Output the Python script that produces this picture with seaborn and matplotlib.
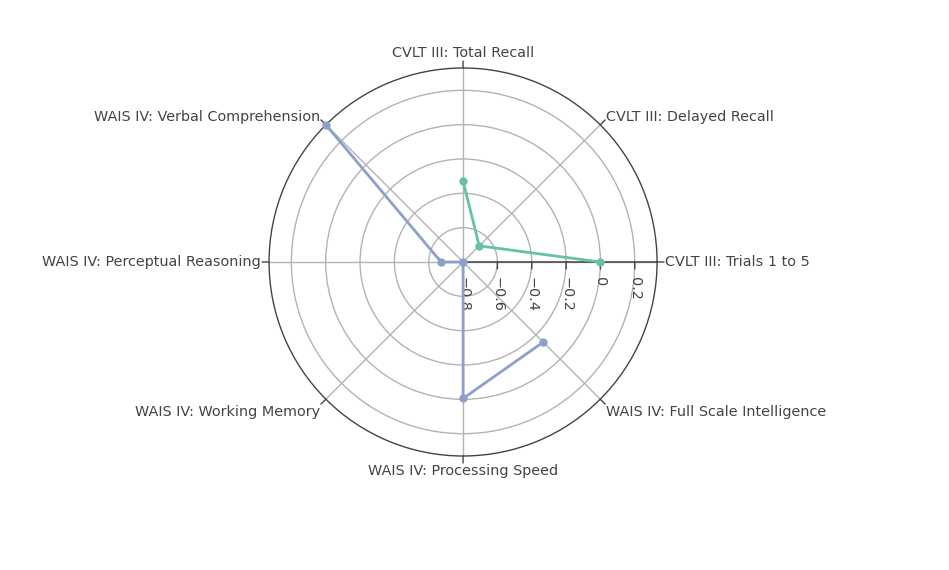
import numpy as np
import pandas as pd
import matplotlib
matplotlib.use("Agg")
import matplotlib.pyplot as plt
import seaborn as sns

categories = [
    "CVLT III: Trials 1 to 5",
    "CVLT III: Delayed Recall",
    "CVLT III: Total Recall",
    "WAIS IV: Verbal Comprehension",
    "WAIS IV: Perceptual Reasoning",
    "WAIS IV: Working Memory",
    "WAIS IV: Processing Speed",
    "WAIS IV: Full Scale Intelligence",
]
cvlt_categories = categories[:3]
cvlt_values = [0.0, -0.667, -0.328]
wais_categories = ["WAIS IV: Verbal Comprehension", "WAIS IV: Perceptual Reasoning",
                   "WAIS IV: Working Memory", "WAIS IV: Processing Speed",
                   "WAIS IV: Full Scale Intelligence"]
wais_values = [0.33, -0.672, -0.8, -0.005, -0.14]
radial_ticks = [-0.8, -0.6, -0.4, -0.2, 0.0, 0.2]
r_min, r_max = -0.8, 0.33

sns.set_style("white")
plt.rcParams["font.family"] = ["DejaVu Sans"]
txt = "#444444"
fs = 10.4

angle_of = {c: np.deg2rad(45 * i) for i, c in enumerate(categories)}
df = pd.DataFrame({
    "theta": [angle_of[c] for c in cvlt_categories] + [angle_of[c] for c in wais_categories],
    "value": cvlt_values + wais_values,
    "group": ["CVLT"] * len(cvlt_values) + ["WAIS"] * len(wais_values),
})

fig = plt.figure(figsize=(9.49, 5.70), dpi=100)
ax = fig.add_axes([0.2835, 0.2, 0.4089, 0.6807], projection="polar")

ax.set_ylim(r_min, r_max)
ax.set_xticks([angle_of[c] for c in categories])
ax.set_xticklabels([])
ax.set_yticks(radial_ticks)
ax.set_yticklabels([])
ax.grid(True, color="#b3b3b3", linewidth=1.0)
ax.spines["polar"].set_color(txt)
ax.spines["polar"].set_linewidth(1.0)
ax.tick_params(axis="both", length=0)

sns.lineplot(data=df, x="theta", y="value", hue="group", palette=["#66c2a5", "#8da0cb"],
             sort=False, marker="o", markersize=6, markeredgewidth=0, linewidth=2,
             ax=ax, legend=False, estimator=None, zorder=5)
for ln in ax.lines:
    ln.set_clip_on(False)
ax.set_xlabel("")
ax.set_ylabel("")

# radial axis line
ax.plot([0, 0], [r_min, r_max], color=txt, linewidth=1.1, zorder=4)

# radial ticks and labels
for v in radial_ticks:
    ax.annotate("", xy=(0, v), xytext=(0, -5), textcoords="offset points",
                arrowprops=dict(arrowstyle="-", color=txt, lw=1.0, shrinkA=0, shrinkB=0))
    lab = f"{v:g}".replace("-", "\u2212")
    ax.annotate(lab, xy=(0, v), xytext=(0, -11), textcoords="offset points",
                rotation=-90, ha="center", va="top", fontsize=fs, color=txt)

# angular ticks and labels
for c in categories:
    t = angle_of[c]
    dx, dy = np.cos(t), np.sin(t)
    ax.annotate("", xy=(t, r_max), xytext=(5 * dx, 5 * dy), textcoords="offset points",
                arrowprops=dict(arrowstyle="-", color=txt, lw=1.0, shrinkA=0, shrinkB=0),
                annotation_clip=False)
    ha = "center" if abs(dx) < 0.1 else ("left" if dx > 0 else "right")
    va = "center" if abs(dy) < 0.1 else ("bottom" if dy > 0 else "top")
    oy = 6 * dy
    if abs(dx) > 0.1 and dy > 0.1:
        oy = 0.8
    ax.annotate(c, xy=(t, r_max), xytext=(6 * dx, oy), textcoords="offset points",
                ha=ha, va=va, fontsize=fs, color=txt, annotation_clip=False)

fig.savefig("out.png", dpi=100, facecolor="white")
